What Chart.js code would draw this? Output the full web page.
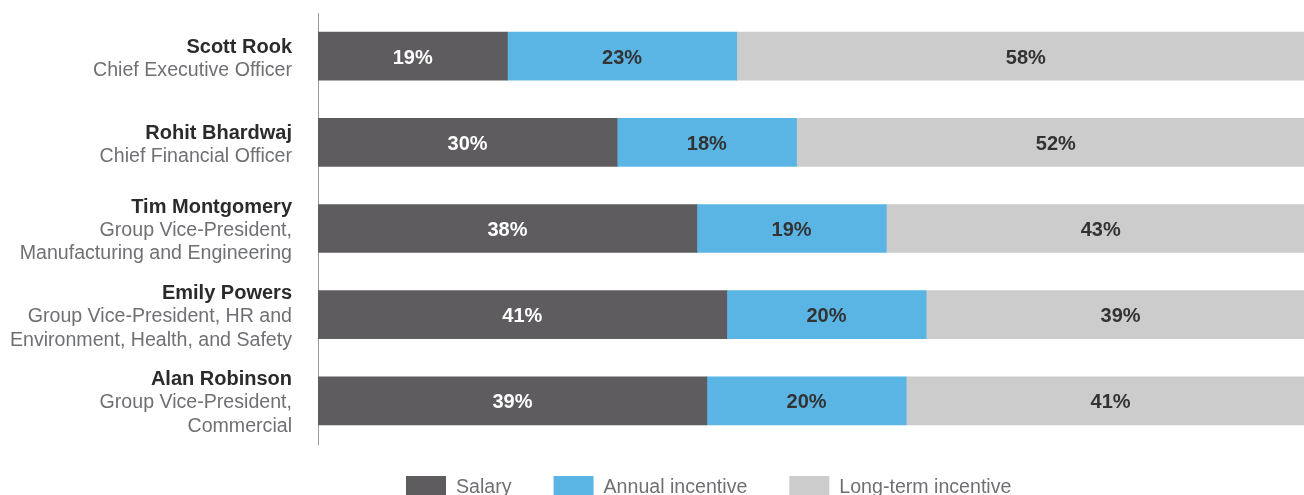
<!DOCTYPE html>
<html>
<head>
<meta charset="utf-8">
<script src="https://cdn.jsdelivr.net/npm/chart.js@4/dist/chart.umd.min.js"></script>
<style>
  html, body { margin: 0; padding: 0; background: #fff; overflow: hidden; }
  #wrap { width: 1304px; height: 495px; overflow: hidden; }
  canvas { display: block; }
</style>
</head>
<body>
<div id="wrap"><canvas id="grafico" width="1316" height="495"></canvas></div>
<script>
// Nomes e cargos (primeira linha em negrito)
const nomes = ["Scott Rook", "Rohit Bhardwaj", "Tim Montgomery", "Emily Powers", "Alan Robinson"];
const cargos = [
  ["Chief Executive Officer"],
  ["Chief Financial Officer"],
  ["Group Vice-President,", "Manufacturing and Engineering"],
  ["Group Vice-President, HR and", "Environment, Health, and Safety"],
  ["Group Vice-President,", "Commercial"]
];

const salario = [19, 30, 38, 41, 39];
const incentivoAnual = [23, 18, 19, 20, 20];
const incentivoLongo = [58, 52, 43, 39, 41];

const fonte = 'Arial, "Liberation Sans", Helvetica, sans-serif';

// Rótulos do eixo y desenhados à mão (nome em negrito + cargo em cinza)
const rotulosPlugin = {
  id: "rotulos",
  afterDraw(chart) {
    const ctx = chart.ctx;
    const y = chart.scales.y;
    ctx.save();
    ctx.textAlign = "right";
    ctx.textBaseline = "middle";
    nomes.forEach((nome, i) => {
      const linhas = [nome].concat(cargos[i]);
      const lh = 23.5;
      const cy = y.getPixelForTick(i);
      let top = cy - (linhas.length - 1) * lh / 2 + 2;
      if (linhas.length === 2) top += 1;
      linhas.forEach((t, j) => {
        ctx.font = j === 0 ? "bold 20px " + fonte : "19.6px " + fonte;
        ctx.fillStyle = j === 0 ? "#2b2b2b" : "#6f7073";
        ctx.fillText(t, 292, top + j * lh);
      });
    });

    // Valores dentro das barras
    ctx.textAlign = "center";
    ctx.font = "bold 20px " + fonte;
    chart.data.datasets.forEach((ds, d) => {
      const meta = chart.getDatasetMeta(d);
      meta.data.forEach((bar, i) => {
        ctx.fillStyle = d === 0 ? "#ffffff" : "#333333";
        ctx.fillText(ds.data[i] + "%", (bar.x + bar.base) / 2, bar.y + 2);
      });
    });

    // Legenda
    let x = 406;
    const ly = 486;
    ctx.textAlign = "left";
    ctx.font = "19.6px " + fonte;
    chart.data.datasets.forEach((ds) => {
      ctx.fillStyle = ds.backgroundColor;
      ctx.fillRect(x, ly - 10, 40, 20);
      ctx.fillStyle = "#6f7073";
      ctx.fillText(ds.label, x + 50, ly + 2);
      x += 50 + ctx.measureText(ds.label).width + 42;
    });
    ctx.restore();
  }
};

new Chart(document.getElementById("grafico"), {
  type: "bar",
  data: {
    labels: nomes,
    datasets: [
      { label: "Salary", data: salario, backgroundColor: "#5e5c5f" },
      { label: "Annual incentive", data: incentivoAnual, backgroundColor: "#5ab5e5" },
      { label: "Long-term incentive", data: incentivoLongo, backgroundColor: "#cdcccd" }
    ]
  },
  options: {
    indexAxis: "y",
    responsive: false,
    animation: false,
    devicePixelRatio: 1,
    layout: { padding: { top: 13, bottom: 51, right: 1, left: 0 } },
    datasets: { bar: { barThickness: 48 } },
    plugins: { legend: { display: false }, tooltip: { enabled: false } },
    scales: {
      x: { stacked: true, min: 0, max: 100, display: false },
      y: {
        stacked: true,
        grid: { display: false },
        ticks: { display: false },
        border: { display: true, color: "#9a9a9a", width: 1 },
        afterFit(s) { s.width = 318; }
      }
    }
  },
  plugins: [rotulosPlugin]
});
</script>
</body>
</html>
